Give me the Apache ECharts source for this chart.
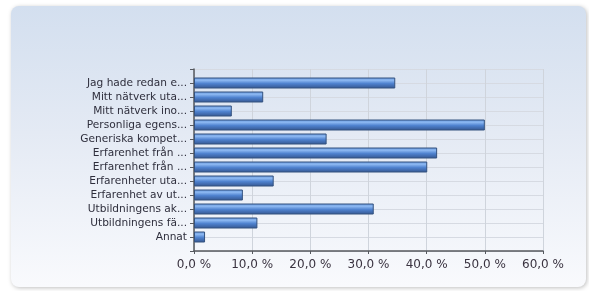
<!DOCTYPE html>
<html>
<head>
<meta charset="utf-8">
<script src="https://cdn.jsdelivr.net/npm/echarts@6/dist/echarts.min.js"></script>
<style>
  html, body { margin: 0; padding: 0; background: #ffffff; }
  #chart-container { width: 589px; height: 291px; }
</style>
</head>
<body>
<div id="chart-container"></div>
<script>
// categories, top to bottom (truncated as in the original)
const categories = [
  'Jag hade redan e...',
  'Mitt nätverk uta...',
  'Mitt nätverk ino...',
  'Personliga egens...',
  'Generiska kompet...',
  'Erfarenhet från ...',
  'Erfarenhet från ...',
  'Erfarenheter uta...',
  'Erfarenhet av ut...',
  'Utbildningens ak...',
  'Utbildningens fä...',
  'Annat'
];
// percent values
const values = [34.6, 11.9, 6.5, 50.0, 22.8, 41.8, 40.1, 13.7, 8.4, 30.9, 10.9, 1.9];
const xTicks = [0, 10, 20, 30, 40, 50, 60];

const chartContainer = document.getElementById('chart-container');
const myChart = echarts.init(chartContainer, null, { renderer: 'canvas' });

// empty slots at both ends give the full-row gap above and below the bars
const yData = [''].concat(categories, ['']);
const barData = [null].concat(values, [null]);

const fontFamily = 'DejaVu Sans';

let option = {
  animation: false,
  backgroundColor: '#ffffff',
  graphic: [
    {
      type: 'rect',
      left: 11,
      top: 6,
      z: -10,
      shape: { width: 575, height: 281, r: 8 },
      style: {
        fill: new echarts.graphic.LinearGradient(0, 0, 0, 1, [
          { offset: 0, color: '#d3dfef' },
          { offset: 0.45, color: '#e4eaf4' },
          { offset: 1, color: '#f9fafd' }
        ]),
        shadowBlur: 4,
        shadowOffsetX: 1,
        shadowOffsetY: 1,
        shadowColor: 'rgba(0,0,0,0.25)'
      }
    }
  ],
  grid: {
    left: 194,
    right: 46,
    top: 69,
    bottom: 40
  },
  xAxis: {
    type: 'value',
    min: xTicks[0],
    max: xTicks[xTicks.length - 1],
    interval: 10,
    axisLine: { show: true, lineStyle: { color: '#55585e', width: 1.5 } },
    axisTick: { show: true, length: 3, lineStyle: { color: '#55585e' } },
    splitLine: { show: true, lineStyle: { color: '#cfd4dc', width: 1 } },
    axisLabel: {
      color: '#3a3340',
      fontFamily: fontFamily,
      fontSize: 12,
      margin: 8,
      formatter: function (v) { return v.toFixed(1).replace('.', ',') + ' %'; }
    }
  },
  yAxis: {
    type: 'category',
    inverse: true,
    boundaryGap: false,
    data: yData,
    axisLine: { show: true, lineStyle: { color: '#55585e', width: 1.5 } },
    axisTick: { show: true, length: 4, lineStyle: { color: '#55585e' } },
    splitLine: { show: true, lineStyle: { color: '#d6dae2', width: 1 } },
    axisLabel: {
      color: '#2e2e3c',
      fontFamily: fontFamily,
      fontSize: 10.6,
      margin: 7,
      interval: 0
    }
  },
  series: [
    {
      type: 'bar',
      data: barData,
      barWidth: 11,
      itemStyle: {
        color: new echarts.graphic.LinearGradient(0, 0, 0, 1, [
          { offset: 0, color: '#5f90d8' },
          { offset: 0.25, color: '#8db9f2' },
          { offset: 0.55, color: '#4f82cf' },
          { offset: 1, color: '#34558e' }
        ]),
        borderColor: '#34527f',
        borderWidth: 1
      }
    }
  ]
};

myChart.setOption(option);
window.addEventListener('resize', myChart.resize);
</script>
</body>
</html>
